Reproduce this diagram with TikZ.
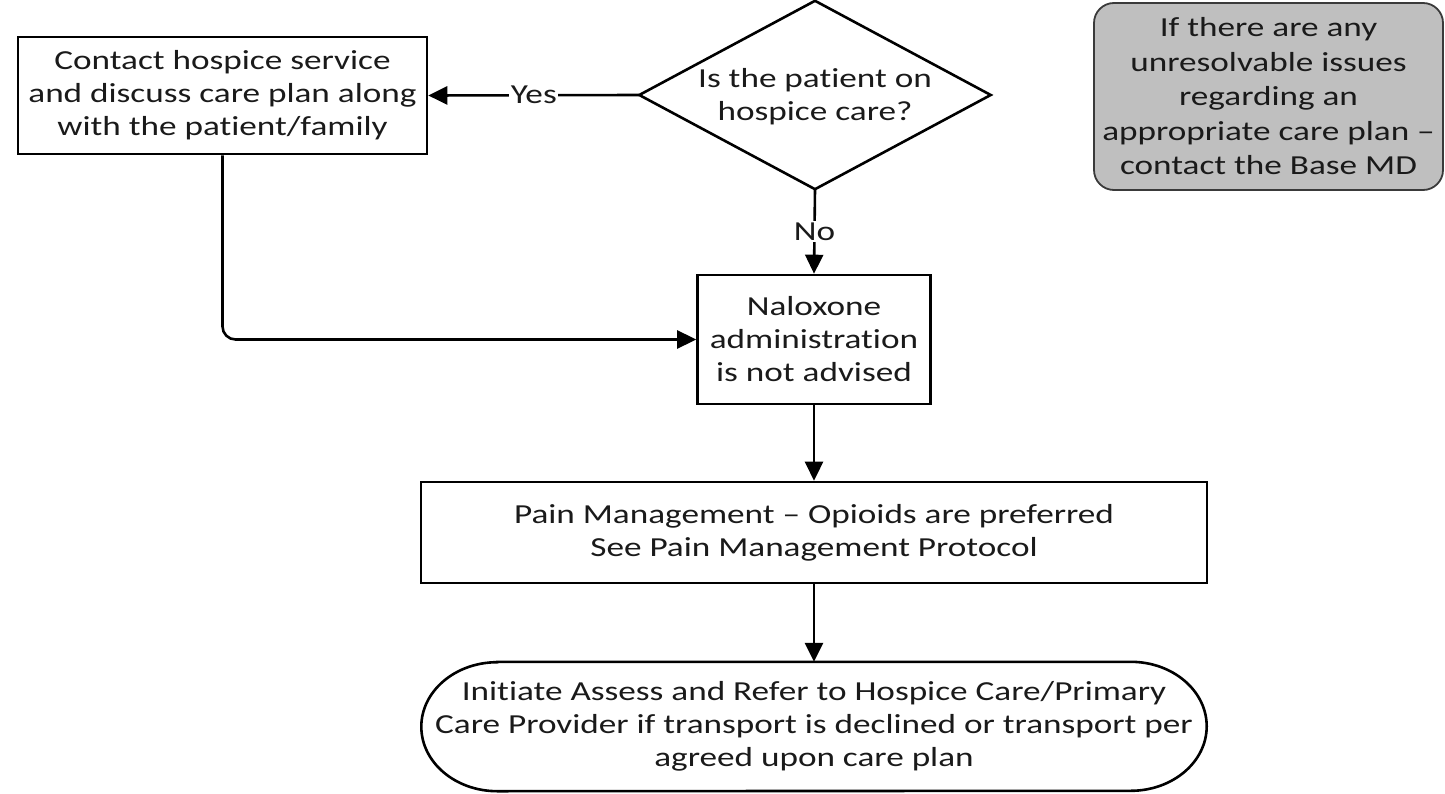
\documentclass[tikz,border=0pt]{standalone}
\usepackage{fontspec}
\setmainfont[FakeStretch=1.28, Ligatures={TeX,NoCommon}]{Carlito}
\usetikzlibrary{arrows.meta}
\definecolor{txt}{HTML}{1A1A1A}
\definecolor{graybox}{HTML}{BFBFBF}
\definecolor{grayedge}{HTML}{3A3A3A}
\begin{document}
\begin{tikzpicture}[x=1pt,y=-1pt,
  font=\fontsize{27.5pt}{33pt}\selectfont, text=txt,
  procbox/.style={draw=black, line width=2.6pt, inner sep=0pt, align=center},
  flowline/.style={draw=black, line width=2.6pt},
  flowarrow/.style={flowline, -{Triangle[length=19pt,width=18pt]}},
  flowlabel/.style={fill=white, inner sep=1.5pt},
  notebox/.style={draw=grayedge, fill=graybox, line width=1.8pt, rounded corners=20pt,
    inner sep=0pt, align=center, font=\fontsize{27.5pt}{34.5pt}\selectfont}]
\useasboundingbox (0,0) rectangle (1445,794);

% nodes
\node[procbox, minimum width=409pt, minimum height=117pt] (contact) at (222.5,95.5)
  {Contact hospice service\\and discuss care plan along\\with the patient/family};

\node[inner sep=0pt, minimum width=351pt, minimum height=188pt] (dec) at (815,95) {};
\draw[flowline, line join=miter] (dec.west) -- (dec.north) -- (dec.east) -- (dec.south) -- cycle;
\node[align=center, inner sep=0pt] (dectext) at (815,97) {Is the patient on\\hospice care?};

\node[notebox, minimum width=349pt, minimum height=187pt] (note) at (1268.5,96.5)
  {If there are any\\unresolvable issues\\regarding an\\appropriate care plan –\\contact the Base MD};

\node[procbox, minimum width=233pt, minimum height=129pt] (nalox) at (814,339.5)
  {Naloxone\\administration\\is not advised};

\node[procbox, minimum width=786pt, minimum height=101pt] (pain) at (814,532.5)
  {Pain Management – Opioids are preferred\\See Pain Management Protocol};

\node[inner sep=0pt, minimum width=785pt, minimum height=129pt, align=center] (term) at (814,726.5)
  {Initiate Assess and Refer to Hospice Care/Primary\\Care Provider if transport is declined or transport per\\agreed upon care plan};
\draw[flowline] ([xshift=76pt]term.north west) -- ([xshift=-76pt]term.north east)
  arc[start angle=90, end angle=-90, x radius=76pt, y radius=64.5pt]
  -- ([xshift=76pt]term.south west)
  arc[start angle=270, end angle=90, x radius=76pt, y radius=64.5pt] -- cycle;

% connectors
\draw[flowarrow] (dec.west) -- node[flowlabel] {Yes} (contact.east);
\draw[flowarrow] (dec.south) -- node[flowlabel] {No} (nalox.north);
\draw[flowarrow, rounded corners=13pt] (contact.south) |- (nalox.west);
\draw[flowarrow] (nalox.south) -- (pain.north);
\draw[flowarrow] (pain.south) -- (term.north);
\end{tikzpicture}
\end{document}
